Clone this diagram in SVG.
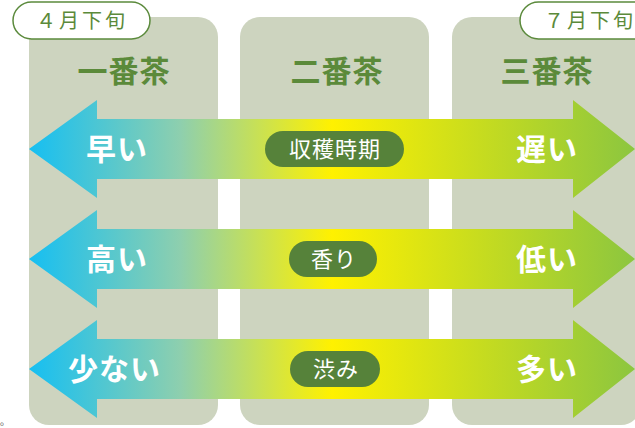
<svg xmlns="http://www.w3.org/2000/svg" width="635" height="428" viewBox="0 0 635 428">
<style>
.col{fill:#cdd4bf}
.hdr{font-family:"Noto Sans CJK JP","Noto Sans CJK SC",sans-serif;font-size:30px;font-weight:700;fill:#5b8a3a;text-anchor:middle;letter-spacing:1px}
.tab{fill:#fff;stroke:#5b8a3c;stroke-width:1.5}
.tabt{font-family:"Noto Sans CJK JP",sans-serif;font-size:20px;fill:#5b8a3a;text-anchor:middle;letter-spacing:3px}
.arrow{fill:url(#grad)}
.lbl{font-family:"Noto Sans CJK JP",sans-serif;font-size:30px;font-weight:700;fill:#fff;letter-spacing:1px}
.pill{fill:#56823a}
.pillt{font-family:"Noto Sans CJK JP",sans-serif;font-size:22px;fill:#fff;text-anchor:middle;letter-spacing:1px}
</style>
<defs>
<linearGradient id="grad" gradientUnits="userSpaceOnUse" x1="29" y1="0" x2="635" y2="0">
<stop offset="0" stop-color="#16bff2"/>
<stop offset="0.25" stop-color="#8ecfae"/>
<stop offset="0.5" stop-color="#fff100"/>
<stop offset="1" stop-color="#8cc63f"/>
</linearGradient>
</defs>
<g id="columns">
<g id="col1"><rect class="col" x="29" y="17" width="189" height="408" rx="20"/><text class="hdr" x="124" y="82">一番茶</text></g>
<g id="col2"><rect class="col" x="240" y="17" width="189" height="408" rx="20"/><text class="hdr" x="337" y="82">二番茶</text></g>
<g id="col3"><rect class="col" x="452" y="17" width="189" height="408" rx="20"/><text class="hdr" x="547" y="82">三番茶</text></g>
</g>
<g id="tab-april"><rect class="tab" x="13" y="2" width="137" height="37" rx="18.5"/><text class="tabt" x="82" y="28">４月下旬</text></g>
<g id="tab-july"><rect class="tab" x="520" y="2" width="140" height="37" rx="18.5"/><text class="tabt" x="590" y="28">７月下旬</text></g>
<g id="connectors">
<path class="arrow" d="M29 149 L97 100 L97 119 L573 119 L573 100 L635 149 L573 198 L573 179 L97 179 L97 198 Z"/>
<path class="arrow" d="M29 259 L97 210 L97 229 L573 229 L573 210 L635 259 L573 308 L573 289 L97 289 L97 308 Z"/>
<path class="arrow" d="M29 369 L97 320 L97 339 L573 339 L573 320 L635 369 L573 418 L573 399 L97 399 L97 418 Z"/>
</g>
<g id="row1">
<text class="lbl" x="86" y="160">早い</text>
<text class="lbl" x="516" y="160">遅い</text>
<rect class="pill" x="265" y="131" width="139" height="36" rx="18"/>
<text class="pillt" x="335" y="157">収穫時期</text>
</g>
<g id="row2">
<text class="lbl" x="86" y="270">高い</text>
<text class="lbl" x="516" y="270">低い</text>
<rect class="pill" x="289" y="241" width="88" height="36" rx="18"/>
<text class="pillt" x="334" y="267">香り</text>
</g>
<g id="row3">
<text class="lbl" x="68" y="380">少ない</text>
<text class="lbl" x="516" y="380">多い</text>
<rect class="pill" x="290" y="351" width="90" height="36" rx="18"/>
<text class="pillt" x="336" y="377">渋み</text>
</g>
<text x="0" y="425" font-family="Noto Sans CJK JP, sans-serif" font-size="10" fill="#444">。</text>
</svg>
